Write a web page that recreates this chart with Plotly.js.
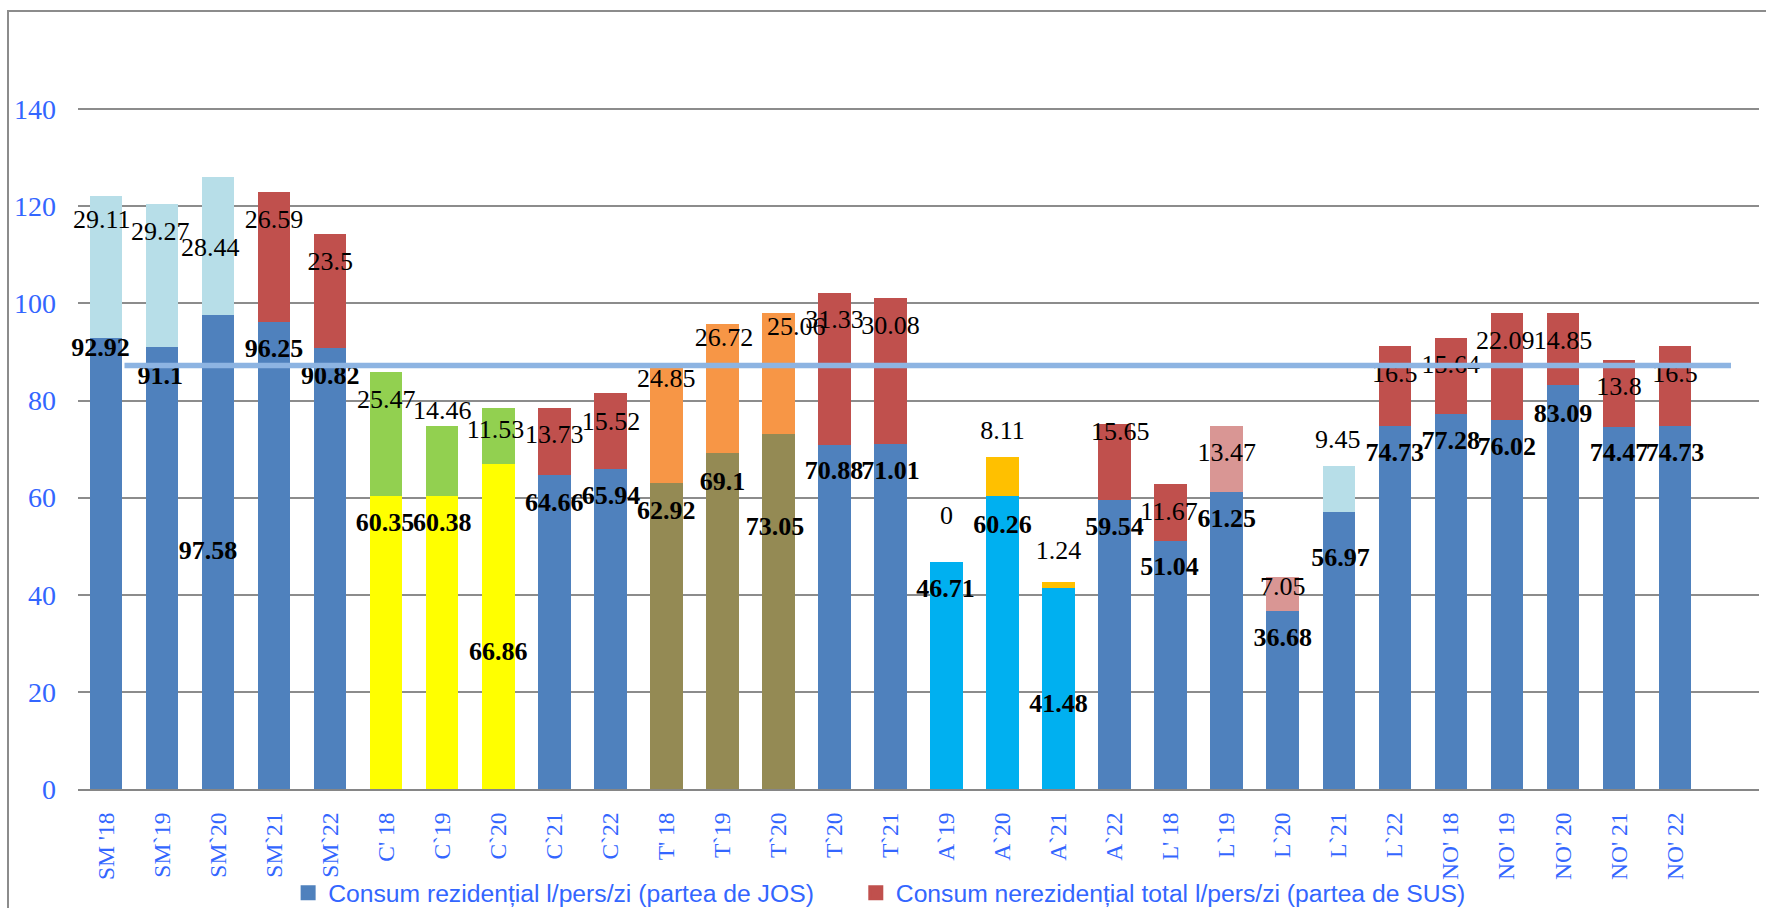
<!DOCTYPE html>
<html><head><meta charset="utf-8">
<script src="https://cdn.plot.ly/plotly-3.0.1.min.js"></script>
<style>
html,body{margin:0;padding:0;background:#fff;}
#wrap{position:relative;width:1766px;height:908px;overflow:hidden;}
#chart{position:absolute;left:0;top:0;width:1766px;height:908px;}
#frame{position:absolute;left:7px;top:10px;width:1780px;height:920px;border-left:2px solid #8c8c8c;border-top:2px solid #8c8c8c;pointer-events:none;}
</style></head><body>
<div id="wrap"><div id="chart"></div><div id="frame"></div></div>
<script>
// ---- data ----
const categories = ["SM '18","SM`19","SM`20","SM`21","SM`22","C' 18","C`19","C`20","C`21","C`22",
  "T' 18","T`19","T`20","T`20","T`21","A`19","A`20","A`21","A`22","L' 18",
  "L`19","L`20","L`21","L`22","NO' 18","NO' 19","NO' 20","NO' 21","NO' 22"];
const residential = [92.92,91.1,97.58,96.25,90.82,60.35,60.38,66.86,64.66,65.94,
  62.92,69.1,73.05,70.88,71.01,46.71,60.26,41.48,59.54,51.04,
  61.25,36.68,56.97,74.73,77.28,76.02,83.09,74.47,74.73];
const nonResidential = [29.11,29.27,28.44,26.59,23.5,25.47,14.46,11.53,13.73,15.52,
  24.85,26.72,25.06,31.33,30.08,0,8.11,1.24,15.65,11.67,
  13.47,7.05,9.45,16.5,15.64,22.09,14.85,13.8,16.5];
const averageValue = [87.23, 87.23];
const averageSpan = [0.33, 29];          // category positions where the line starts / ends
const yTicks = [0,20,40,60,80,100,120,140];
const seriesNames = ["Consum rezidențial l/pers/zi (partea de JOS)",
                     "Consum nerezidențial total l/pers/zi (partea de SUS)"];

// ---- styles ----
const B="#4F81BD", R="#C0504D", LB="#B7DEE8", YE="#FFFF00", GR="#92D050",
      OL="#948A54", OR="#F79646", CY="#00B0F0", GO="#FFC000", PK="#D99694";
const bottomColors = [B,B,B,B,B,YE,YE,YE,B,B,OL,OL,OL,B,B,CY,CY,CY,B,B,B,B,B,B,B,B,B,B,B];
const topColors = [LB,LB,LB,R,R,GR,GR,GR,R,R,OR,OR,OR,R,R,GO,GO,GO,R,R,PK,PK,LB,R,R,R,R,R,R];

// ---- label placement (y in axis units, dx in category units) ----
const bottomLabelY = [90.5,84.8,48.8,90.3,84.8,54.5,54.5,28.0,58.6,60.0,
  57.0,63.0,53.6,65.1,65.1,40.8,54.1,17.2,53.6,45.4,
  55.3,30.8,47.3,68.9,71.3,70.2,77.0,68.9,68.9];
const bottomLabelDx = [-0.1,-0.03,-0.18,0,0,-0.02,0,0,0,0.01,
  0,0,-0.06,-0.01,0,-0.02,0,0,0,-0.02,
  0,0,0.03,0,0,0,0,0,0];
const topLabelY = [116.8,114.4,111.1,116.8,108.3,79.8,77.5,73.7,72.6,75.3,
  84.1,92.5,94.8,96.2,95.1,56.0,73.5,48.6,73.3,56.8,
  68.9,41.2,71.6,85.2,87.0,92.0,92.0,82.4,85.2];
const topLabelDx = [-0.075,-0.03,-0.14,0,0,0,0,-0.05,0,0.01,
  0,0.03,0.32,0,0,0,0,0,0.1,-0.03,
  0,0,-0.02,0,0,-0.03,0,0,0];

const idx = categories.map((c,i)=>i);
const serif = "Liberation Serif, Times New Roman, serif";
const sans = "Liberation Sans, Arial, sans-serif";
const blue = "#3366ff";

const traces = [
  {type:"bar", x:idx, y:residential, width:0.58, marker:{color:bottomColors},
   showlegend:false, hoverinfo:"skip"},
  {type:"bar", x:idx, y:nonResidential, width:0.58, marker:{color:topColors},
   showlegend:false, hoverinfo:"skip"},
  {type:"bar", x:[null], y:[null], name:seriesNames[0], legend:"legend",
   marker:{color:B, line:{color:B, width:3}}, hoverinfo:"skip"},
  {type:"bar", x:[null], y:[null], name:seriesNames[1], legend:"legend2",
   marker:{color:R, line:{color:R, width:3}}, hoverinfo:"skip"},
  {type:"scatter", mode:"text", x:idx.map((i)=>i+bottomLabelDx[i]), y:bottomLabelY,
   text:residential.map(String), textposition:"middle center",
   textfont:{family:serif, size:26, color:"#000", weight:"bold"},
   showlegend:false, hoverinfo:"skip", cliponaxis:false},
  {type:"scatter", mode:"text", x:idx.map((i)=>i+topLabelDx[i]), y:topLabelY,
   text:nonResidential.map(String), textposition:"middle center",
   textfont:{family:serif, size:26, color:"#000"},
   showlegend:false, hoverinfo:"skip", cliponaxis:false},
  {type:"scatter", mode:"lines", x:averageSpan, y:averageValue,
   line:{color:"#8DB4E2", width:5.5}, showlegend:false, hoverinfo:"skip"}
];

const legendFont = {family:sans, size:24.7, color:blue};
const layout = {
  width:1766, height:908,
  margin:{l:78, r:7, t:12, b:119, autoexpand:false},
  paper_bgcolor:"#fff", plot_bgcolor:"#fff",
  barmode:"stack",
  showlegend:true,
  xaxis:{type:"linear", range:[-0.5, 29.5], tickvals:idx, ticktext:categories,
    tickangle:-90, tickfont:{family:serif, size:23.5, color:blue},
    showgrid:false, zeroline:false, showline:true, linecolor:"#868686", linewidth:2,
    ticks:"", ticklabelstandoff:12, fixedrange:true, automargin:false},
  yaxis:{range:[0,160], tickvals:yTicks, ticktext:yTicks.map(String),
    tickfont:{family:serif, size:28, color:blue},
    showgrid:true, gridcolor:"#8c8c8c", gridwidth:2, zeroline:false, showline:false,
    ticks:"", ticklabelstandoff:21, fixedrange:true, automargin:false},
  legend:{orientation:"h", x:0.125, xanchor:"left", y:-0.134, yanchor:"middle",
    font:legendFont, bgcolor:"rgba(0,0,0,0)"},
  legend2:{orientation:"h", x:0.4627, xanchor:"left", y:-0.134, yanchor:"middle",
    font:legendFont, bgcolor:"rgba(0,0,0,0)"}
};

Plotly.newPlot("chart", traces, layout, {staticPlot:true, displayModeBar:false});
</script>
</body></html>
